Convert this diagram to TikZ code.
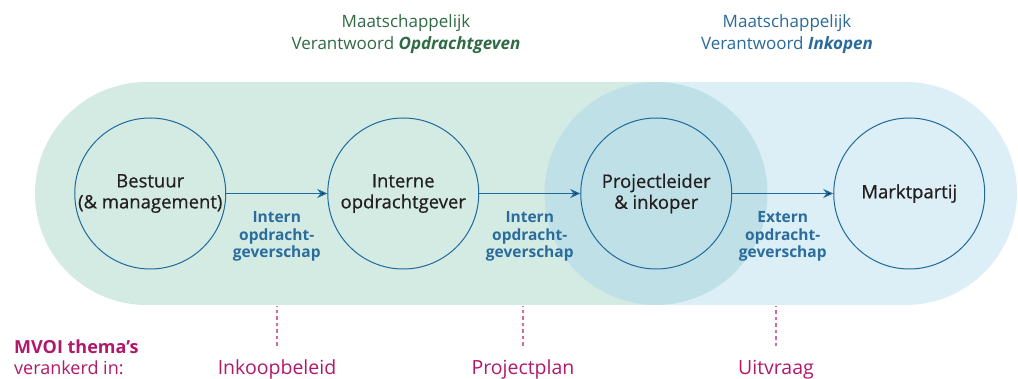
\documentclass[tikz,border=0pt]{standalone}
\usepackage{fontspec}
\setmainfont{Open Sans}
\usepackage{tikz}
\usetikzlibrary{matrix,arrows.meta,positioning}

\definecolor{greenbg}{HTML}{D4EBE4}
\definecolor{bluebg}{HTML}{DCEEF6}
\definecolor{overlapbg}{HTML}{BFE0E6}
\definecolor{ringblue}{HTML}{1E6A9C}
\definecolor{labelblue}{HTML}{2A6C9C}
\definecolor{inkgrey}{HTML}{231F20}
\definecolor{headgreen}{HTML}{2F6A45}
\definecolor{headblue}{HTML}{2A6A9A}
\definecolor{mvoimagenta}{HTML}{B0186A}
\definecolor{dashpink}{HTML}{D06A9F}

\tikzset{
  party/.style={circle, draw=ringblue, line width=1pt, minimum size=151pt, inner sep=0pt,
    align=center, text=inkgrey, font=\fontsize{18.5}{21}\selectfont\addfontfeatures{FakeBold=0.6}},
  rolelabel/.style={align=center, text=labelblue, font=\fontsize{15.5}{17.5}\selectfont\bfseries},
  headtext/.style={align=center, inner sep=0pt, anchor=north, font=\fontsize{17}{22}\selectfont},
  themetext/.style={anchor=base, text=mvoimagenta, font=\fontsize{19.5}{21}\selectfont},
  anchorlink/.style={draw=dashpink, line width=1.2pt, dash pattern=on 3.5pt off 3pt},
}

\begin{document}
\begin{tikzpicture}[x=1pt, y=-1pt]
  \useasboundingbox (0,0) rectangle (1018,379);
  % banen
  \fill[greenbg, rounded corners=111.5pt] (35,82) rectangle (767.5,305);
  \fill[bluebg, rounded corners=111.5pt] (544.5,82) rectangle (1017,305);
  \fill[overlapbg] (656,193.5) circle (111.5pt);

  \node[headtext, text=headgreen] (mvo) at (406,14.1)
    {Maatschappelijk\\Verantwoord \textbf{\textit{Opdrachtgeven}}};
  \node[headtext, text=headblue] (mvi) at (787,14.1)
    {Maatschappelijk\\Verantwoord \textbf{\textit{Inkopen}}};

  \matrix (m) [column sep=101pt] at (529.75,193.5)
  {
\node[party] (bestuur) {Bestuur\\(\& management)}; &
\node[party] (intern) {Interne\\opdrachtgever}; &
\node[party] (projl) {Projectleider\\\& inkoper}; &
\node[party] (markt) {Marktpartij}; \\
};
  \path[draw=ringblue, line width=1.3pt, -{Stealth[length=10pt, width=9pt]}]
  (bestuur) edge node [rolelabel, below=14pt] {Intern\\opdracht-\\geverschap} (intern)
  (intern) edge node [rolelabel, below=14pt] {Intern\\opdracht-\\geverschap} (projl)
  (projl) edge node [rolelabel, below=14pt] {Extern\\opdracht-\\geverschap} (markt)
  ;

  \node[align=left, anchor=north west, inner sep=0pt, text=mvoimagenta,
    font=\fontsize{18}{21}\selectfont] (mvoi) at (14,339.3)
    {\textbf{MVOI thema’s}\\verankerd in:};
  \foreach \lbl/\txt/\xx in {inkoop/Inkoopbeleid/277, projplan/Projectplan/523, uitvr/Uitvraag/776}{
    \node[themetext] (\lbl) at (\xx,374) {\txt};
    \coordinate (\lbl-top) at (\xx,306);
    \draw[anchorlink, shorten <=10pt] (\lbl.north) -- (\lbl-top);
  }
\end{tikzpicture}
\end{document}
